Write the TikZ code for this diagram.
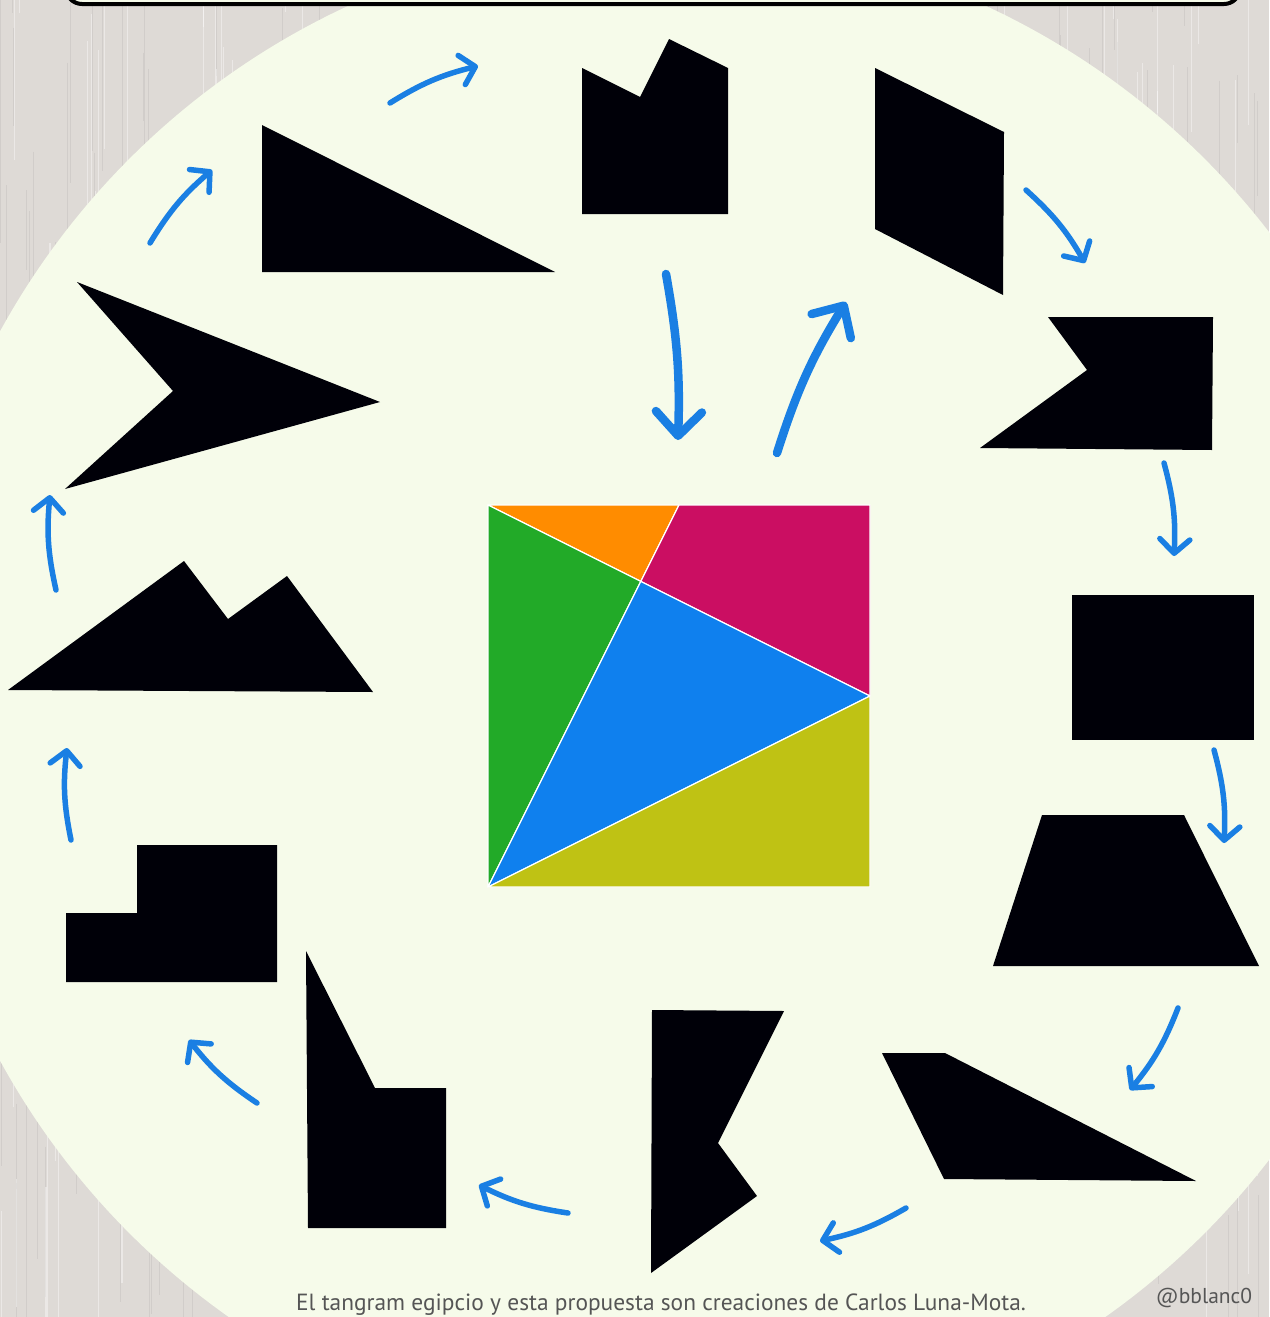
\documentclass[tikz,border=0pt]{standalone}
\usepackage{fontspec}
\setmainfont{PT Sans}
\usetikzlibrary{arrows.meta}
\definecolor{cream}{HTML}{F6FBEA}
\definecolor{wood}{HTML}{DEDAD6}
\definecolor{flowblue}{HTML}{1A7FE3}
\definecolor{textgray}{HTML}{555555}
\definecolor{egorange}{HTML}{FF8C00}
\definecolor{egmagenta}{HTML}{CB0E62}
\definecolor{eggreen}{HTML}{22AA28}
\definecolor{egblue}{HTML}{0F80EE}
\definecolor{egolive}{HTML}{BFC214}
\begin{document}
\begin{tikzpicture}[x=1pt, y=-1pt,
  flow/.style={draw=flowblue, line width=5.5pt, line cap=round,
    -{Straight Barb[length=14pt,width=30pt,round]}},
  bigflow/.style={flow, line width=8.5pt,
    -{Straight Barb[length=24pt,width=46pt,round]}},
  piece/.style={draw=white, line width=1.2pt, line join=round},
  silhouette/.style={fill=black!97!blue}]
  \useasboundingbox (0,0) rectangle (1269,1317);
  % wooden background
  \fill[wood] (0,0) rectangle (1269,1317);
  \pgfmathsetseed{11}
  \foreach \i in {1,...,500}{
    \pgfmathsetmacro\xx{rnd*1269}
    \pgfmathsetmacro\yy{rnd*1317-100}
    \pgfmathsetmacro\ll{30+rnd*250}
    \pgfmathsetmacro\ww{0.3+rnd*0.9}
    \draw[line width=\ww pt, wood!75!black, opacity=0.22] (\xx,\yy) -- ++(0,\ll);
  }
  \foreach \i in {1,...,400}{
    \pgfmathsetmacro\xx{rnd*1269}
    \pgfmathsetmacro\yy{rnd*1317-100}
    \pgfmathsetmacro\ll{30+rnd*250}
    \pgfmathsetmacro\ww{0.5+rnd*1.2}
    \draw[line width=\ww pt, white, opacity=0.4] (\xx,\yy) -- ++(0,\ll);
  }
  \fill[cream] (667,696) circle[radius=760];
  \draw[line width=4pt, fill=cream, rounded corners=16pt] (66,-40) rectangle (1240,4);

  % the egyptian tangram
  \begin{scope}[shift={(488,887)}, x=382pt, y=382pt]
    \filldraw[piece, fill=egorange] (0,1) -- (0.5,1) -- (0.4,0.8) -- cycle;
    \filldraw[piece, fill=egmagenta] (0.5,1) -- (1,1) -- (1,0.5) -- (0.4,0.8) -- cycle;
    \filldraw[piece, fill=eggreen] (0,1) -- (0.4,0.8) -- (0,0) -- cycle;
    \filldraw[piece, fill=egblue] (0,0) -- (0.4,0.8) -- (1,0.5) -- cycle;
    \filldraw[piece, fill=egolive] (0,0) -- (1,0.5) -- (1,0) -- cycle;
  \end{scope}

  % figures
  \fill[silhouette] (582,68) -- (640,97) -- (669,39) -- (728,68) -- (728,214) -- (582,214) -- cycle;
  \fill[silhouette] (875,68) -- (1004,132) -- (1003,295) -- (875,229) -- cycle;
  \fill[silhouette] (1048,317) -- (1213,317) -- (1212,450) -- (980,448) -- (1087,370) -- cycle;
  \fill[silhouette] (1072,595) rectangle (1254,740);
  \fill[silhouette] (1042,815) -- (1184,815) -- (1259,966) -- (993,966) -- cycle;
  \fill[silhouette] (882,1053) -- (945,1053) -- (1196,1181) -- (944,1179) -- cycle;
  \fill[silhouette] (652,1010) -- (784,1011) -- (718,1143) -- (757,1196) -- (651,1273) -- cycle;
  \fill[silhouette] (306,951) -- (375,1088) -- (446,1088) -- (446,1228) -- (308,1228) -- cycle;
  \fill[silhouette] (137,845) -- (277,845) -- (277,982) -- (66,982) -- (66,913) -- (137,913) -- cycle;
  \fill[silhouette] (8,690) -- (184,561) -- (228,619) -- (287,576) -- (373,692) -- cycle;
  \fill[silhouette] (77,282) -- (380,402) -- (65,489) -- (173,391) -- cycle;
  \fill[silhouette] (262,125) -- (555,272) -- (262,272) -- cycle;

  % arrows round the ring
  \foreach \sx/\sy/\ex/\ey [count=\k] in {150/243/212/170, 390/103/478/66,
      1026/190/1085/263, 1164/463/1174/556, 1214/750/1224/843,
      1178/1008/1130/1090, 906/1208/820/1241, 568/1213/479/1185,
      257/1103/189/1040, 71/840/67/748, 56/590/50/495}{
    \coordinate (s\k) at (\sx,\sy);
    \coordinate (e\k) at (\ex,\ey);
    \draw[flow] (s\k) to[bend left=9] (e\k);
  }
  \coordinate (inS) at (666,274);
  \coordinate (inE) at (678,440);
  \coordinate (outS) at (777,453);
  \coordinate (outE) at (846,302);
  \draw[bigflow] (inS) to[bend left=6] (inE);
  \draw[bigflow] (outS) to[bend left=7] (outE);

  \node[text=textgray, font=\fontsize{23.4}{28}\selectfont, anchor=base] (credit) at (661,1310)
    {El tangram egipcio y esta propuesta son creaciones de Carlos Luna-Mota.};
  \node[text=textgray, font=\fontsize{21.5}{26}\selectfont, anchor=base] (handle) at (1204,1303) {@bblanc0};
\end{tikzpicture}
\end{document}
